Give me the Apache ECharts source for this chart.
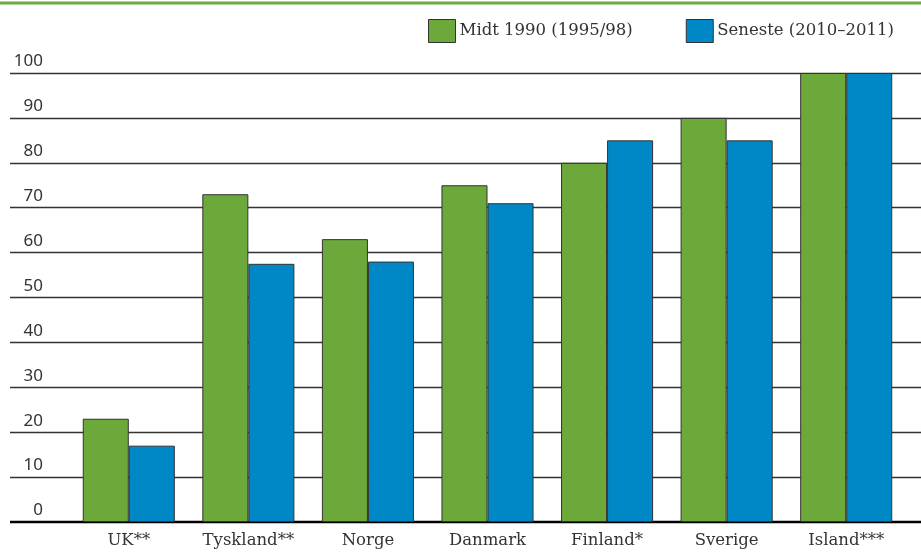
<!DOCTYPE html>
<html>
<head>
<meta charset="utf-8">
<script src="https://cdn.jsdelivr.net/npm/echarts@6/dist/echarts.min.js"></script>
<style>
  html, body { margin: 0; padding: 0; background: #fff; }
  #main { width: 921px; height: 555px; }
</style>
</head>
<body>
<div id="main"></div>
<script>
const categories = ['UK**', 'Tyskland**', 'Norge', 'Danmark', 'Finland*', 'Sverige', 'Island***'];
const seriesNames = ['Midt 1990 (1995/98)', 'Seneste (2010–2011)'];
const midt1990 = [23, 73, 63, 75, 80, 90, 100];
const seneste = [17, 57.5, 58, 71, 85, 85, 100];
const yTicks = [0, 10, 20, 30, 40, 50, 60, 70, 80, 90, 100];

const colors = ['#6ca83a', '#0087c5'];
const chart = echarts.init(document.getElementById('main'));

const option = {
  animation: false,
  graphic: [{
    type: 'line',
    shape: { x1: 0, y1: 3, x2: 921, y2: 3 },
    style: { stroke: '#6cab3c', lineWidth: 3 }
  }],
  legend: {
    data: seriesNames,
    top: 14,
    left: 423,
    itemWidth: 27,
    itemHeight: 23,
    itemGap: 53,
    icon: 'rect',
    itemStyle: { borderColor: '#333', borderWidth: 1 },
    textStyle: { fontFamily: 'DejaVu Serif', fontSize: 16.5, color: '#333', padding: [0, 0, 0, -1] }
  },
  grid: [
    { left: 10, right: 0, top: 73, bottom: 33 },
    { left: 69, right: 15, top: 73, bottom: 33 }
  ],
  xAxis: [
    { gridIndex: 0, type: 'value', show: false, min: 0, max: 1 },
    {
      gridIndex: 1,
      type: 'category',
      data: categories,
      axisLine: { show: false },
      axisTick: { show: false },
      axisLabel: { fontFamily: 'DejaVu Serif', fontSize: 16.5, color: '#333', margin: 10 }
    }
  ],
  yAxis: [
    {
      gridIndex: 0,
      type: 'value',
      min: 0,
      max: 100,
      interval: 10,
      axisLine: { show: false },
      axisTick: { show: false },
      splitLine: { lineStyle: { color: '#333', width: 1.3 } },
      axisLabel: {
        inside: true,
        align: 'right',
        verticalAlign: 'bottom',
        margin: 33,
        padding: [0, 0, 3, 0],
        fontFamily: 'Noto Sans',
        fontSize: 17,
        color: '#333',
        formatter: v => yTicks.includes(v) ? String(v) : ''
      }
    },
    { gridIndex: 1, type: 'value', min: 0, max: 100, interval: 10, show: false }
  ],
  series: [
    {
      type: 'line',
      xAxisIndex: 0,
      yAxisIndex: 0,
      data: [[0, 0], [1, 0]],
      symbol: 'none',
      lineStyle: { color: '#000', width: 2.5 },
      silent: true,
      z: 1
    },
    {
      name: seriesNames[0],
      type: 'bar',
      xAxisIndex: 1,
      yAxisIndex: 1,
      data: midt1990,
      barGap: '0%',
      barCategoryGap: '23%',
      itemStyle: { color: colors[0], borderColor: '#333', borderWidth: 1 },
      z: 3
    },
    {
      name: seriesNames[1],
      type: 'bar',
      xAxisIndex: 1,
      yAxisIndex: 1,
      data: seneste,
      itemStyle: { color: colors[1], borderColor: '#333', borderWidth: 1 },
      z: 3
    }
  ]
};

chart.setOption(option);
</script>
</body>
</html>
